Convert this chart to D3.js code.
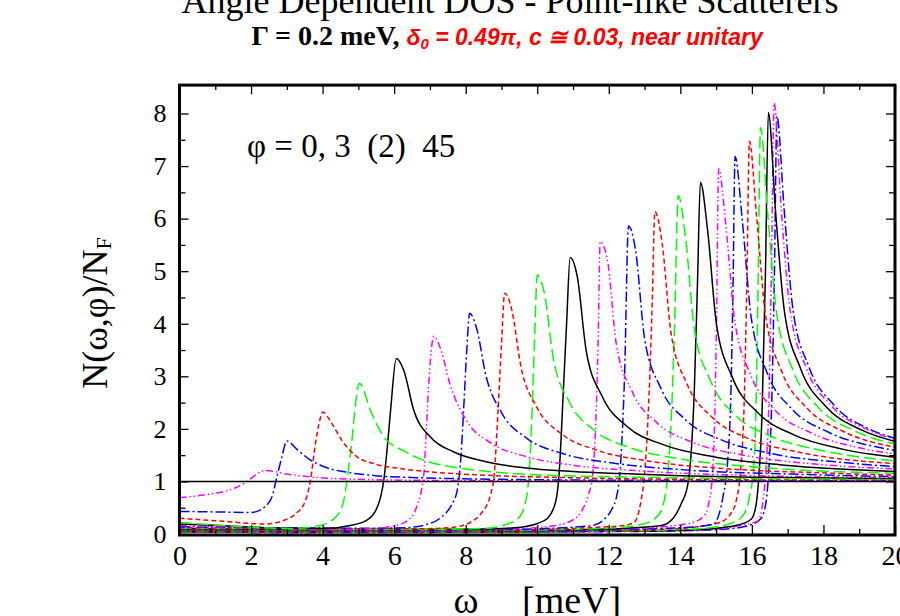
<!DOCTYPE html>
<html><head><meta charset="utf-8">
<script src="https://cdn.jsdelivr.net/npm/d3@7"></script>
<style>
html,body{margin:0;padding:0;background:#fff;}
svg{display:block;}
</style></head>
<body>
<svg id="chart" width="900" height="616"></svg>
<script>
// ---------------- data ----------------
const xTickValues = [0,2,4,6,8,10,12,14,16,18,20];
const xTickLabels = ["0","2","4","6","8","10","12","14","16","18","20"];
const yTickValues = [0,1,2,3,4,5,6,7,8];
const yTickLabels = ["0","1","2","3","4","5","6","7","8"];
const phiAngles = [0,3,5,7,9,11,13,15,17,19,21,23,25,27,29,31,33,35,37,39,41,43,45];

// N(omega,phi)/N_F, points [omega (meV), N]
const phi0  = [[0,.035],[3,.03],[6,.03],[9,.035],[12,.045],[14,.06],[15.2,.09],[15.9,.16],[16.26,.3],[16.4,.63],[16.47,1.2],[16.55,2.4],[16.63,5.0],[16.7,7.95],[16.9,6.19],[17.15,4.26],[17.6,3.17],[18.3,2.45],[19.3,1.99],[20,1.82]];
const phi3  = [[0,.035],[3,.03],[6,.03],[9,.035],[12,.05],[14,.065],[15.1,.1],[15.8,.18],[16.17,.25],[16.31,.63],[16.39,1.2],[16.47,2.4],[16.55,5.2],[16.62,8.2],[16.82,6.18],[17.07,4.25],[17.52,3.16],[18.22,2.44],[19.22,1.99],[20,1.80]];
const phi5  = [[0,.04],[3,.035],[6,.035],[9,.04],[12,.05],[14,.07],[15,.11],[15.6,.17],[15.98,.28],[16.12,.57],[16.2,1.14],[16.28,2.2],[16.38,5.0],[16.46,8.02],[16.66,6.15],[16.91,4.23],[17.36,3.15],[18.06,2.43],[19.06,1.98],[20,1.76]];
const phi7  = [[0,.04],[3,.035],[6,.035],[9,.04],[12,.055],[13.8,.08],[14.8,.12],[15.4,.2],[15.75,.35],[15.93,.70],[16.03,1.14],[16.1,2.0],[16.17,4.6],[16.24,7.73],[16.44,6.11],[16.69,4.21],[17.14,3.13],[17.84,2.42],[18.84,1.97],[20,1.71]];
const phi9  = [[0,.045],[3,.04],[6,.04],[9,.045],[11.5,.06],[13.5,.09],[14.5,.14],[15.1,.22],[15.4,.38],[15.56,.63],[15.7,1.33],[15.78,2.4],[15.86,4.8],[15.93,7.47],[16.13,6.05],[16.38,4.17],[16.83,3.10],[17.53,2.40],[18.53,1.96],[20,1.65]];
const phi11 = [[0,.05],[3,.045],[6,.045],[9,.05],[11.5,.065],[13.2,.1],[14.5,.14],[14.95,.2],[15.1,.42],[15.19,.70],[15.33,1.46],[15.41,2.6],[15.47,4.6],[15.53,7.18],[15.73,5.98],[15.98,4.12],[16.43,3.06],[17.13,2.37],[18.13,1.94],[19.53,1.65],[20,1.59]];
const phi13 = [[0,.055],[3,.05],[6,.05],[9,.055],[11,.07],[12.8,.1],[13.8,.16],[14.35,.22],[14.67,.35],[14.8,.6],[14.9,1.14],[14.96,2.2],[15.01,4.0],[15.07,6.95],[15.27,5.89],[15.52,4.06],[15.97,3.02],[16.67,2.34],[17.67,1.92],[19.07,1.63],[20,1.52]];
const phi15 = [[0,.06],[3,.055],[6,.055],[9,.06],[11,.08],[12.5,.11],[13.46,.16],[13.8,.3],[14.02,.57],[14.21,.95],[14.3,1.52],[14.39,2.73],[14.48,4.8],[14.56,6.69],[14.76,5.79],[15.01,3.99],[15.46,2.97],[16.16,2.31],[17.16,1.89],[18.56,1.61],[20,1.46]];
const phi17 = [[0,.065],[3,.06],[6,.06],[9,.065],[10.8,.085],[12.2,.12],[13.0,.2],[13.3,.3],[13.46,.44],[13.65,1.14],[13.74,2.1],[13.84,4.0],[13.94,6.44],[14.14,5.67],[14.39,3.91],[14.84,2.92],[15.54,2.26],[16.54,1.86],[17.94,1.59],[20,1.39]];
const phi19 = [[0,.07],[3,.065],[6,.065],[8.5,.07],[10.3,.09],[11.7,.13],[12.4,.16],[12.71,.22],[12.9,.63],[13.0,1.14],[13.13,2.73],[13.21,4.3],[13.29,6.13],[13.49,5.54],[13.74,3.82],[14.19,2.85],[14.89,2.22],[15.89,1.82],[17.29,1.56],[20,1.34]];
const phi21 = [[0,.08],[3,.075],[6,.07],[8.5,.08],[10,.1],[11,.13],[11.59,.17],[11.9,.3],[12.06,.44],[12.25,.82],[12.34,1.46],[12.44,3.0],[12.55,5.86],[12.75,5.39],[13.0,3.72],[13.45,2.78],[14.15,2.17],[15.15,1.79],[16.55,1.53],[18.55,1.36],[20,1.28]];
const phi23 = [[0,.09],[2.5,.08],[5,.075],[7.5,.08],[9.3,.1],[10.4,.15],[11.03,.28],[11.25,.45],[11.41,.70],[11.55,1.14],[11.64,2.2],[11.7,3.6],[11.76,5.56],[11.96,5.22],[12.21,3.61],[12.66,2.70],[13.36,2.11],[14.36,1.74],[15.76,1.50],[17.76,1.33],[20,1.24]];
const phi25 = [[0,.10],[2.5,.09],[5,.085],[7.5,.09],[8.8,.1],[9.54,.13],[10.0,.2],[10.29,.3],[10.52,.63],[10.61,1.14],[10.73,2.73],[10.82,4.0],[10.92,5.26],[11.12,4.89],[11.37,3.48],[11.82,2.61],[12.52,2.04],[13.52,1.70],[14.92,1.47],[16.92,1.31],[20,1.19]];
const phi27 = [[0,.11],[2.5,.1],[5,.09],[7.3,.09],[8.6,.11],[9.2,.2],[9.45,.28],[9.68,.63],[9.77,1.14],[9.86,2.4],[9.93,3.8],[10.0,4.93],[10.2,4.58],[10.45,3.34],[10.9,2.51],[11.6,1.97],[12.6,1.64],[14,1.43],[16,1.28],[20,1.155]];
const phi29 = [[0,.12],[2.5,.11],[5,.1],[6.8,.1],[7.67,.13],[8.2,.25],[8.42,.38],[8.7,.76],[8.8,1.15],[8.9,2.3],[9.0,3.6],[9.09,4.58],[9.29,4.26],[9.54,3.2],[9.99,2.41],[10.69,1.9],[11.69,1.59],[13.09,1.39],[15.09,1.25],[18.09,1.16],[20,1.12]];
const phi31 = [[0,.14],[2.5,.12],[5,.11],[6.3,.12],[7.0,.2],[7.3,.31],[7.6,.55],[7.76,.82],[7.87,1.5],[7.96,2.6],[8.03,3.5],[8.11,4.2],[8.31,3.9],[8.56,3.03],[9.01,2.3],[9.71,1.82],[10.71,1.53],[12.11,1.35],[14.11,1.22],[17.11,1.14],[20,1.09]];
const phi33 = [[0,.16],[1.5,.13],[3,.1],[4.5,.09],[5.5,.11],[6.1,.17],[6.4,.27],[6.62,.5],[6.83,1.14],[6.9,2.0],[6.98,3.0],[7.11,3.76],[7.31,3.5],[7.56,2.85],[8.01,2.17],[8.71,1.73],[9.71,1.47],[11.11,1.3],[13.11,1.19],[16.11,1.11],[20,1.07]];
const phi35 = [[0,.19],[1.27,.157],[2.67,.113],[4.08,.105],[4.73,.157],[5.2,.25],[5.48,.44],[5.62,.70],[5.71,1.02],[5.8,1.59],[5.9,2.35],[6.06,3.34],[6.27,3.11],[6.55,2.35],[7.02,1.84],[7.67,1.56],[8.6,1.37],[9.63,1.26],[11,1.19],[12.34,1.15],[14,1.11],[16,1.08],[20,1.05]];
const phi37 = [[0,.22],[1,.17],[2.2,.125],[3.14,.105],[3.89,.156],[4.36,.315],[4.59,.63],[4.68,1.02],[4.82,1.78],[4.92,2.48],[5.03,2.87],[5.34,2.35],[5.71,1.85],[6.27,1.58],[6.76,1.42],[7.67,1.27],[8.6,1.19],[9.82,1.13],[12,1.09],[15,1.06],[20,1.035]];
const phi39 = [[0,.30],[1.27,.24],[2.4,.19],[2.96,.27],[3.24,.38],[3.52,.635],[3.66,1.02],[3.8,1.72],[3.92,2.16],[4.0,2.32],[4.26,2.1],[4.54,1.78],[4.92,1.49],[5.48,1.33],[6.22,1.24],[6.88,1.19],[8.5,1.12],[11,1.07],[14,1.04],[20,1.02]];
const phi41 = [[0,.43],[1,.42],[2.02,.41],[2.3,.475],[2.58,.70],[2.72,1.08],[2.86,1.46],[3.0,1.77],[3.3,1.6],[3.61,1.43],[4.08,1.27],[4.73,1.17],[5.48,1.11],[6.78,1.07],[9,1.04],[13,1.02],[20,1.01]];
const phi43 = [[0,.69],[0.85,.76],[1.3,.82],[1.6,.89],[1.93,1.02],[2.16,1.14],[2.4,1.21],[3.0,1.14],[3.75,1.08],[5,1.04],[7,1.02],[12,1.01],[20,1.005]];
const phi45 = [[0,1],[20,1]];

const seriesData = [phi0,phi3,phi5,phi7,phi9,phi11,phi13,phi15,phi17,phi19,phi21,phi23,
                    phi25,phi27,phi29,phi31,phi33,phi35,phi37,phi39,phi41,phi43,phi45];

// ---------------- styles ----------------
const styleCycle = [
  {color:"#0000ff", dash:"10,3,2,3"},          // blue dash-dot
  {color:"#ff00ff", dash:"7,3,1.5,2.5,1.5,3"}, // magenta dash-dot-dot
  {color:"#000000", dash:null},                // black solid
  {color:"#00ff00", dash:"12,5"},              // green long dash
  {color:"#ff0000", dash:"5,3"}                // red short dash
];

// ---------------- layout ----------------
const svg = d3.select("#chart");
const x = d3.scaleLinear().domain([0,20]).range([179.5,895]);
const y = d3.scaleLinear().domain([0,8]).range([534,113.5]);
const yTop = 8.54;

svg.append("defs").append("clipPath").attr("id","plotclip")
  .append("rect").attr("x",x(0)).attr("y",y(yTop)).attr("width",x(20)-x(0)).attr("height",y(0)-y(yTop));

const line = d3.line().x(d=>x(d[0])).y(d=>y(d[1])).curve(d3.curveMonotoneX);

const plot = svg.append("g").attr("clip-path","url(#plotclip)");
seriesData.forEach((pts,i)=>{
  const st = styleCycle[i % styleCycle.length];
  plot.append("path").datum(pts)
    .attr("d", line)
    .attr("fill","none")
    .attr("stroke", st.color)
    .attr("stroke-width", 1.5)
    .attr("stroke-dasharray", st.dash)
    .attr("stroke-linejoin","round");
});

// ---------------- axes (ticks inside) ----------------
const xMinor = d3.range(1,20,2);
const yMinor = d3.range(0.5,8.5,1);
function styleAxis(g){
  g.select(".domain").remove();
  g.selectAll(".tick line").attr("stroke","#000").attr("stroke-width",1.3);
}
const fontSerif = "'Liberation Serif','Times New Roman',Times,serif";

svg.append("g").attr("transform",`translate(0,${y(0)})`)
  .call(d3.axisBottom(x).tickValues(xTickValues).tickSize(-9).tickPadding(11)
        .tickFormat((d,i)=>xTickLabels[i]))
  .call(styleAxis)
  .call(g=>g.selectAll("text").attr("font-family",fontSerif).attr("font-size",28).attr("fill","#000"));
svg.append("g").attr("transform",`translate(0,${y(0)})`)
  .call(d3.axisBottom(x).tickValues(xMinor).tickSize(-5).tickFormat(""))
  .call(styleAxis);
svg.append("g").attr("transform",`translate(0,${y(yTop)})`)
  .call(d3.axisTop(x).tickValues(xTickValues).tickSize(-9).tickFormat(""))
  .call(styleAxis);
svg.append("g").attr("transform",`translate(0,${y(yTop)})`)
  .call(d3.axisTop(x).tickValues(xMinor).tickSize(-5).tickFormat(""))
  .call(styleAxis);

svg.append("g").attr("transform",`translate(${x(0)},0)`)
  .call(d3.axisLeft(y).tickValues(yTickValues).tickSize(-9).tickPadding(13)
        .tickFormat((d,i)=>yTickLabels[i]))
  .call(styleAxis)
  .call(g=>g.selectAll("text").attr("font-family",fontSerif).attr("font-size",26).attr("fill","#000"));
svg.append("g").attr("transform",`translate(${x(0)},0)`)
  .call(d3.axisLeft(y).tickValues(yMinor).tickSize(-6).tickFormat(""))
  .call(styleAxis);
svg.append("g").attr("transform",`translate(${x(20)},0)`)
  .call(d3.axisRight(y).tickValues(yTickValues).tickSize(-9).tickFormat(""))
  .call(styleAxis);
svg.append("g").attr("transform",`translate(${x(20)},0)`)
  .call(d3.axisRight(y).tickValues(yMinor).tickSize(-6).tickFormat(""))
  .call(styleAxis);

// frame
svg.append("rect")
  .attr("x",x(0)).attr("y",y(yTop))
  .attr("width",x(20)-x(0)).attr("height",y(0)+1-y(yTop))
  .attr("fill","none").attr("stroke","#000").attr("stroke-width",3);

// ---------------- texts ----------------
svg.append("text").attr("x",510).attr("y",13).attr("text-anchor","middle")
  .attr("font-family",fontSerif).attr("font-size",36)
  .text("Angle Dependent DOS - Point-like Scatterers");

const sub = svg.append("text").attr("x",507).attr("y",45).attr("text-anchor","middle");
sub.append("tspan").attr("font-family",fontSerif).attr("font-size",28).attr("font-weight","bold")
  .attr("fill","#000").text("Γ = 0.2 meV, ");
const red = "'Liberation Sans',Arial,Helvetica,sans-serif";
sub.append("tspan").attr("font-family",red).attr("font-size",23).attr("font-weight","bold")
  .attr("font-style","italic").attr("fill","#ff0000").text("δ");
sub.append("tspan").attr("font-family",red).attr("font-size",15).attr("font-weight","bold")
  .attr("font-style","italic").attr("fill","#ff0000").attr("dy",4).text("0");
sub.append("tspan").attr("font-family",red).attr("font-size",23).attr("font-weight","bold")
  .attr("font-style","italic").attr("fill","#ff0000").attr("dy",-4)
  .text(" = 0.49π, c ≅ 0.03, near unitary");

svg.append("text").attr("x",247).attr("y",157)
  .attr("font-family",fontSerif).attr("font-size",33).attr("fill","#000")
  .attr("xml:space","preserve")
  .text("φ = 0, 3  (2)  45");

// axis titles
svg.append("text").attr("x",466).attr("y",613).attr("text-anchor","middle")
  .attr("font-family",fontSerif).attr("font-size",38).text("ω");
svg.append("text").attr("x",522).attr("y",613)
  .attr("font-family",fontSerif).attr("font-size",38).text("[meV]");

const yt = svg.append("text").attr("transform","translate(107,313) rotate(-90)")
  .attr("text-anchor","middle").attr("font-family",fontSerif).attr("font-size",36);
yt.append("tspan").text("N(ω,φ)/N");
yt.append("tspan").attr("font-size",22).attr("dy",4).text("F");
</script>
</body></html>
